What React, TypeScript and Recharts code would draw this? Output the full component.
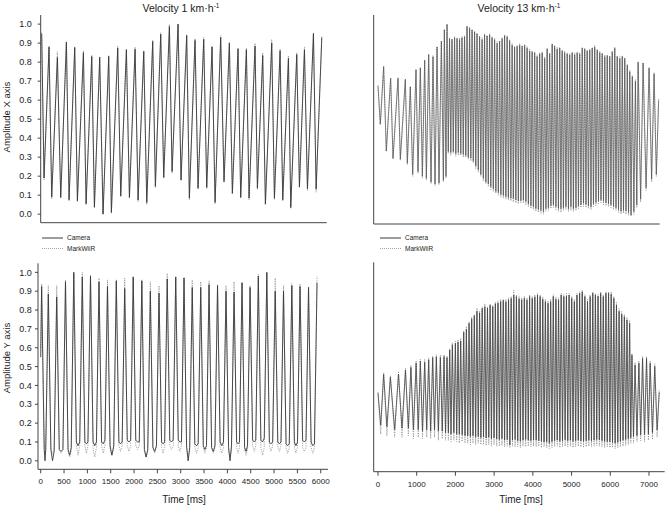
import React from 'react';
import { LineChart, Line, XAxis, YAxis } from 'recharts';

// [time ms, Camera, MarkWiiR]
type Sample = [number, number, number];

const seriesNames = ['Camera', 'MarkWiiR'];
const panelTitles = ['Velocity 1 km\u00b7h', 'Velocity 13 km\u00b7h'];
const yAxisTitles = ['Amplitude X axis', 'Amplitude Y axis'];
const timeTitle = 'Time [ms]';

const slowTimeTicks = [0, 500, 1000, 1500, 2000, 2500, 3000, 3500, 4000, 4500, 5000, 5500, 6000];
const fastTimeTicks = [0, 1000, 2000, 3000, 4000, 5000, 6000, 7000];
const amplitudeTicks = [0, 0.1, 0.2, 0.3, 0.4, 0.5, 0.6, 0.7, 0.8, 0.9, 1.0];
const fastYTicks = [0, 0.1, 0.2, 0.3, 0.4, 0.5, 0.6];

// 1 km/h, X axis
const slowX: Sample[] = [
  [21, 0.95, 0.955],
  [70, 0.19, 0.18], [175, 0.88, 0.885],
  [231, 0.09, 0.08], [350, 0.825, 0.855],
  [420, 0.088, 0.085], [539, 0.905, 0.91],
  [595, 0.075, 0.07], [714, 0.877, 0.88],
  [770, 0.07, 0.065], [896, 0.85, 0.86],
  [952, 0.054, 0.05], [1071, 0.83, 0.835],
  [1127, 0.036, 0.035], [1238, 0.825, 0.83],
  [1308, 0.0, 0.0], [1427, 0.83, 0.835],
  [1483, 0.009, 0.005], [1616, 0.874, 0.885],
  [1679, 0.096, 0.09], [1798, 0.865, 0.87],
  [1861, 0.088, 0.085], [1980, 0.868, 0.88],
  [2043, 0.074, 0.065], [2162, 0.856, 0.86],
  [2225, 0.061, 0.05], [2350, 0.909, 0.915],
  [2406, 0.146, 0.14], [2518, 0.947, 0.955],
  [2581, 0.193, 0.19], [2700, 0.988, 1.0],
  [2756, 0.225, 0.215], [2882, 1.0, 1.0],
  [2944, 0.18, 0.175], [3063, 0.94, 0.945],
  [3119, 0.084, 0.075], [3238, 0.915, 0.925],
  [3301, 0.137, 0.13], [3420, 0.92, 0.93],
  [3483, 0.14, 0.135], [3595, 0.88, 0.885],
  [3658, 0.061, 0.055], [3776, 0.93, 0.94],
  [3846, 0.172, 0.165], [3958, 0.9, 0.905],
  [4021, 0.11, 0.105], [4140, 0.87, 0.875],
  [4196, 0.088, 0.085], [4315, 0.865, 0.875],
  [4371, 0.084, 0.075], [4497, 0.885, 0.9],
  [4546, 0.137, 0.13], [4658, 0.835, 0.85],
  [4714, 0.053, 0.05], [4847, 0.9, 0.92],
  [4903, 0.084, 0.075], [5022, 0.86, 0.87],
  [5078, 0.075, 0.07], [5197, 0.82, 0.835],
  [5246, 0.035, 0.03], [5372, 0.84, 0.85],
  [5428, 0.142, 0.14], [5533, 0.865, 0.88],
  [5596, 0.133, 0.125], [5722, 0.95, 0.955],
  [5778, 0.133, 0.115], [5897, 0.93, 0.935],
];

// 1 km/h, Y axis (peak, then valley start / dip / end)
const slowY: Sample[] = [
  [0, 0.55, 0.6],
  [20, 0.925, 0.94], [75, 0.06, 0.07], [92, 0.0, 0.04], [108, 0.06, 0.06],
  [163, 0.885, 0.93], [218, 0.06, 0.06], [253, 0.0, 0.04], [288, 0.05, 0.06],
  [343, 0.87, 0.93], [398, 0.06, 0.06], [437, 0.05, 0.04], [476, 0.06, 0.06],
  [531, 0.95, 0.96], [586, 0.06, 0.05], [620, 0.03, 0.02], [654, 0.07, 0.05],
  [709, 1.0, 1.0], [764, 0.1, 0.08], [800, 0.08, 0.03], [836, 0.1, 0.08],
  [891, 0.975, 1.0], [946, 0.1, 0.08], [979, 0.09, 0.04], [1012, 0.1, 0.08],
  [1067, 0.98, 0.985], [1122, 0.1, 0.07], [1158, 0.08, 0.02], [1194, 0.1, 0.07],
  [1249, 0.95, 0.97], [1304, 0.1, 0.08], [1340, 0.09, 0.04], [1376, 0.11, 0.08],
  [1431, 0.925, 0.96], [1486, 0.08, 0.06], [1525, 0.03, 0.03], [1565, 0.08, 0.06],
  [1620, 0.955, 0.96], [1675, 0.1, 0.08], [1710, 0.09, 0.05], [1745, 0.1, 0.08],
  [1800, 0.915, 0.97], [1855, 0.11, 0.08], [1891, 0.1, 0.05], [1927, 0.11, 0.08],
  [1982, 0.975, 0.98], [2037, 0.11, 0.08], [2075, 0.1, 0.06], [2112, 0.1, 0.08],
  [2167, 0.955, 0.96], [2222, 0.06, 0.05], [2258, 0.02, 0.02], [2294, 0.06, 0.05],
  [2349, 0.9, 0.95], [2404, 0.07, 0.07], [2442, 0.05, 0.04], [2480, 0.08, 0.07],
  [2535, 0.89, 0.93], [2590, 0.1, 0.07], [2623, 0.09, 0.04], [2656, 0.1, 0.07],
  [2711, 0.965, 0.995], [2766, 0.11, 0.08], [2802, 0.1, 0.06], [2838, 0.11, 0.08],
  [2893, 0.975, 0.98], [2948, 0.11, 0.08], [2982, 0.1, 0.05], [3016, 0.1, 0.08],
  [3071, 0.97, 0.975], [3126, 0.08, 0.05], [3159, 0.0, 0.02], [3192, 0.07, 0.05],
  [3247, 0.92, 0.96], [3302, 0.09, 0.07], [3338, 0.08, 0.04], [3374, 0.09, 0.07],
  [3429, 0.92, 0.95], [3484, 0.08, 0.07], [3518, 0.06, 0.04], [3552, 0.08, 0.07],
  [3607, 0.935, 0.955], [3662, 0.07, 0.07], [3698, 0.05, 0.04], [3734, 0.08, 0.07],
  [3789, 0.93, 0.935], [3844, 0.1, 0.07], [3880, 0.08, 0.04], [3916, 0.1, 0.07],
  [3971, 0.9, 0.93], [4026, 0.07, 0.05], [4057, 0.0, 0.02], [4088, 0.08, 0.05],
  [4143, 0.895, 0.95], [4198, 0.1, 0.07], [4228, 0.09, 0.04], [4259, 0.1, 0.07],
  [4314, 0.945, 0.945], [4369, 0.07, 0.06], [4400, 0.05, 0.03], [4431, 0.08, 0.06],
  [4486, 0.92, 0.93], [4541, 0.11, 0.08], [4575, 0.1, 0.05], [4608, 0.11, 0.08],
  [4663, 0.98, 0.99], [4718, 0.11, 0.07], [4754, 0.1, 0.03], [4790, 0.12, 0.07],
  [4845, 1.0, 1.0], [4900, 0.1, 0.08], [4935, 0.09, 0.05], [4970, 0.1, 0.08],
  [5025, 0.9, 0.97], [5080, 0.1, 0.08], [5114, 0.09, 0.05], [5148, 0.1, 0.08],
  [5203, 0.9, 0.93], [5258, 0.09, 0.07], [5292, 0.08, 0.04], [5326, 0.09, 0.07],
  [5381, 0.93, 0.94], [5436, 0.1, 0.07], [5469, 0.08, 0.04], [5502, 0.1, 0.07],
  [5557, 0.925, 0.94], [5612, 0.11, 0.07], [5648, 0.1, 0.05], [5684, 0.11, 0.07],
  [5739, 0.92, 0.925], [5794, 0.1, 0.07], [5830, 0.08, 0.04], [5866, 0.09, 0.07],
  [5921, 0.945, 0.98],
];

// 13 km/h, X axis (trough, peak)
const fastX: Sample[] = [
  [0, 0.675, 0.68],
  [60, 0.475, 0.47], [146, 0.777, 0.78],
  [215, 0.333, 0.33], [327, 0.716, 0.72],
  [388, 0.295, 0.29], [517, 0.716, 0.72],
  [577, 0.29, 0.285], [706, 0.71, 0.71],
  [758, 0.27, 0.26], [835, 0.67, 0.675],
  [896, 0.21, 0.2], [982, 0.76, 0.765],
  [1034, 0.225, 0.215], [1094, 0.77, 0.775],
  [1146, 0.2, 0.19], [1206, 0.81, 0.815],
  [1249, 0.19, 0.18], [1309, 0.84, 0.845],
  [1370, 0.17, 0.16], [1421, 0.83, 0.835],
  [1473, 0.16, 0.15], [1525, 0.88, 0.885],
  [1576, 0.165, 0.155], [1637, 0.91, 0.915],
  [1689, 0.18, 0.17], [1714, 0.97, 0.975],
  [1757, 0.2, 0.19], [1783, 1.0, 1.0],
  [1816, 0.33, 0.32], [1848, 0.925, 0.93],
  [1880, 0.325, 0.31], [1912, 0.92, 0.925],
  [1945, 0.33, 0.32], [1978, 0.93, 0.935],
  [2010, 0.32, 0.305], [2042, 0.925, 0.93],
  [2075, 0.325, 0.31], [2107, 0.92, 0.93],
  [2138, 0.32, 0.31], [2170, 0.93, 0.935],
  [2203, 0.315, 0.3], [2236, 0.935, 0.94],
  [2268, 0.31, 0.3], [2300, 0.99, 0.99],
  [2333, 0.3, 0.29], [2366, 0.98, 0.985],
  [2398, 0.295, 0.28], [2430, 0.97, 0.975],
  [2462, 0.28, 0.27], [2495, 0.96, 0.965],
  [2526, 0.255, 0.24], [2558, 0.95, 0.955],
  [2591, 0.235, 0.22], [2624, 0.935, 0.94],
  [2656, 0.21, 0.2], [2689, 0.92, 0.93],
  [2721, 0.19, 0.175], [2753, 0.945, 0.95],
  [2786, 0.17, 0.16], [2818, 0.94, 0.94],
  [2850, 0.16, 0.145], [2883, 0.945, 0.95],
  [2914, 0.145, 0.13], [2946, 0.93, 0.935],
  [2979, 0.135, 0.12], [3012, 0.92, 0.925],
  [3044, 0.12, 0.11], [3077, 0.9, 0.91],
  [3109, 0.115, 0.1], [3141, 0.91, 0.915],
  [3174, 0.105, 0.09], [3206, 0.925, 0.93],
  [3238, 0.1, 0.085], [3270, 0.94, 0.945],
  [3303, 0.093, 0.08], [3336, 0.935, 0.94],
  [3368, 0.088, 0.075], [3400, 0.915, 0.92],
  [3432, 0.084, 0.07], [3465, 0.89, 0.9],
  [3496, 0.082, 0.065], [3528, 0.88, 0.885],
  [3561, 0.075, 0.06], [3594, 0.885, 0.89],
  [3626, 0.07, 0.055], [3659, 0.89, 0.9],
  [3691, 0.072, 0.06], [3723, 0.885, 0.89],
  [3756, 0.075, 0.06], [3788, 0.89, 0.895],
  [3820, 0.067, 0.05], [3852, 0.875, 0.885],
  [3885, 0.055, 0.04], [3918, 0.86, 0.87],
  [3950, 0.045, 0.03], [3982, 0.855, 0.86],
  [4014, 0.04, 0.025], [4047, 0.85, 0.855],
  [4078, 0.03, 0.015], [4110, 0.83, 0.84],
  [4143, 0.025, 0.01], [4176, 0.845, 0.85],
  [4208, 0.02, 0.005], [4241, 0.85, 0.855],
  [4273, 0.015, 0.0], [4305, 0.82, 0.83],
  [4338, 0.03, 0.015], [4370, 0.87, 0.875],
  [4402, 0.035, 0.02], [4434, 0.845, 0.85],
  [4467, 0.045, 0.03], [4500, 0.895, 0.9],
  [4531, 0.05, 0.035], [4563, 0.885, 0.89],
  [4596, 0.04, 0.025], [4628, 0.87, 0.88],
  [4661, 0.032, 0.015], [4694, 0.875, 0.88],
  [4726, 0.03, 0.01], [4758, 0.86, 0.865],
  [4790, 0.035, 0.02], [4822, 0.85, 0.86],
  [4855, 0.04, 0.025], [4888, 0.845, 0.85],
  [4920, 0.03, 0.015], [4952, 0.84, 0.845],
  [4984, 0.04, 0.02], [5016, 0.85, 0.855],
  [5048, 0.03, 0.015], [5081, 0.84, 0.85],
  [5114, 0.035, 0.02], [5146, 0.85, 0.855],
  [5178, 0.045, 0.03], [5210, 0.845, 0.85],
  [5243, 0.05, 0.035], [5276, 0.875, 0.88],
  [5308, 0.058, 0.04], [5340, 0.87, 0.875],
  [5372, 0.052, 0.035], [5404, 0.86, 0.865],
  [5436, 0.045, 0.03], [5469, 0.865, 0.87],
  [5502, 0.04, 0.025], [5534, 0.875, 0.88],
  [5566, 0.055, 0.04], [5598, 0.88, 0.89],
  [5631, 0.062, 0.045], [5664, 0.865, 0.87],
  [5696, 0.07, 0.055], [5728, 0.85, 0.86],
  [5760, 0.075, 0.06], [5792, 0.845, 0.85],
  [5825, 0.068, 0.05], [5858, 0.83, 0.84],
  [5890, 0.06, 0.045], [5922, 0.835, 0.84],
  [5954, 0.055, 0.04], [5986, 0.83, 0.835],
  [6018, 0.05, 0.035], [6051, 0.855, 0.86],
  [6084, 0.042, 0.025], [6116, 0.875, 0.88],
  [6148, 0.035, 0.02], [6180, 0.83, 0.835],
  [6213, 0.025, 0.01], [6246, 0.82, 0.83],
  [6278, 0.015, 0.0], [6310, 0.83, 0.835],
  [6342, 0.02, 0.005], [6374, 0.82, 0.825],
  [6407, 0.018, 0.0], [6440, 0.785, 0.79],
  [6472, 0.01, -0.005], [6504, 0.75, 0.76],
  [6537, -0.004, -0.01], [6570, 0.725, 0.73],
  [6610, 0.014, 0.0], [6650, 0.7, 0.71],
  [6685, 0.05, 0.035], [6719, 0.8, 0.805],
  [6784, 0.08, 0.065], [6848, 0.795, 0.8],
  [6925, 0.14, 0.125], [7003, 0.77, 0.775],
  [7068, 0.185, 0.17], [7132, 0.74, 0.745],
  [7190, 0.21, 0.2], [7250, 0.6, 0.61],
];

// 13 km/h, Y axis (trough, peak)
const fastY: Sample[] = [
  [0, 0.167, 0.17],
  [70, 0.06, 0.03], [146, 0.23, 0.235],
  [230, 0.055, 0.025], [320, 0.22, 0.225],
  [430, 0.045, 0.02], [530, 0.23, 0.24],
  [620, 0.05, 0.02], [710, 0.244, 0.25],
  [785, 0.05, 0.025], [850, 0.253, 0.26],
  [915, 0.045, 0.015], [985, 0.267, 0.275],
  [1040, 0.045, 0.02], [1094, 0.274, 0.28],
  [1150, 0.04, 0.015], [1206, 0.27, 0.28],
  [1258, 0.045, 0.02], [1309, 0.278, 0.285],
  [1360, 0.04, 0.015], [1413, 0.286, 0.29],
  [1460, 0.045, 0.02], [1507, 0.288, 0.295],
  [1560, 0.04, 0.01], [1611, 0.286, 0.295],
  [1660, 0.04, 0.015], [1706, 0.289, 0.295],
  [1745, 0.035, 0.01], [1783, 0.286, 0.29],
  [1818, 0.035, 0.01], [1852, 0.311, 0.315],
  [1886, 0.03, 0.005], [1921, 0.328, 0.335],
  [1960, 0.035, 0.01], [1999, 0.333, 0.34],
  [2033, 0.03, 0.005], [2067, 0.337, 0.345],
  [2101, 0.03, 0.0], [2136, 0.341, 0.35],
  [2175, 0.028, 0.005], [2214, 0.37, 0.375],
  [2248, 0.025, 0.0], [2283, 0.38, 0.39],
  [2318, 0.025, 0.0], [2352, 0.4, 0.405],
  [2386, 0.022, -0.005], [2420, 0.415, 0.42],
  [2454, 0.025, 0.0], [2488, 0.425, 0.43],
  [2522, 0.02, -0.005], [2556, 0.44, 0.45],
  [2590, 0.022, 0.0], [2624, 0.435, 0.44],
  [2658, 0.018, -0.005], [2692, 0.45, 0.455],
  [2726, 0.02, -0.005], [2760, 0.455, 0.465],
  [2794, 0.017, -0.008], [2828, 0.45, 0.455],
  [2862, 0.02, -0.005], [2896, 0.46, 0.465],
  [2930, 0.015, -0.01], [2964, 0.455, 0.46],
  [2998, 0.018, -0.005], [3032, 0.465, 0.47],
  [3066, 0.014, -0.01], [3100, 0.467, 0.475],
  [3134, 0.012, -0.01], [3168, 0.472, 0.48],
  [3202, 0.015, -0.008], [3236, 0.476, 0.48],
  [3270, 0.01, -0.012], [3304, 0.472, 0.48],
  [3338, 0.012, -0.01], [3372, 0.478, 0.485],
  [3406, -0.006, -0.015], [3440, 0.483, 0.49],
  [3474, 0.01, -0.01], [3508, 0.494, 0.51],
  [3542, 0.012, -0.012], [3576, 0.489, 0.495],
  [3610, 0.008, -0.012], [3644, 0.482, 0.49],
  [3678, 0.006, -0.015], [3712, 0.478, 0.485],
  [3746, 0.01, -0.01], [3780, 0.483, 0.49],
  [3814, 0.012, -0.012], [3848, 0.478, 0.485],
  [3882, 0.01, -0.01], [3916, 0.489, 0.495],
  [3950, 0.008, -0.012], [3984, 0.483, 0.49],
  [4018, 0.011, -0.01], [4052, 0.488, 0.495],
  [4086, 0.01, -0.012], [4120, 0.494, 0.5],
  [4154, 0.008, -0.01], [4188, 0.489, 0.495],
  [4222, 0.006, -0.015], [4256, 0.48, 0.488],
  [4290, 0.004, -0.012], [4324, 0.472, 0.48],
  [4358, 0.005, -0.015], [4392, 0.467, 0.475],
  [4426, 0.0, -0.018], [4460, 0.472, 0.48],
  [4494, 0.005, -0.015], [4528, 0.489, 0.495],
  [4562, 0.008, -0.012], [4596, 0.48, 0.488],
  [4630, 0.01, -0.01], [4664, 0.478, 0.485],
  [4698, 0.006, -0.015], [4732, 0.494, 0.5],
  [4766, 0.008, -0.012], [4800, 0.489, 0.495],
  [4834, 0.011, -0.01], [4868, 0.49, 0.5],
  [4902, 0.008, -0.012], [4936, 0.494, 0.5],
  [4970, 0.01, -0.01], [5004, 0.483, 0.49],
  [5038, 0.006, -0.015], [5072, 0.472, 0.48],
  [5106, 0.008, -0.012], [5140, 0.494, 0.5],
  [5174, 0.01, -0.01], [5208, 0.5, 0.505],
  [5242, 0.008, -0.012], [5276, 0.505, 0.51],
  [5310, 0.006, -0.015], [5344, 0.489, 0.495],
  [5378, 0.008, -0.012], [5412, 0.472, 0.48],
  [5446, 0.01, -0.01], [5480, 0.489, 0.495],
  [5514, 0.008, -0.012], [5548, 0.5, 0.505],
  [5582, 0.01, -0.01], [5616, 0.494, 0.5],
  [5650, 0.012, -0.008], [5684, 0.49, 0.495],
  [5718, 0.011, -0.01], [5752, 0.5, 0.505],
  [5786, 0.008, -0.012], [5820, 0.489, 0.495],
  [5854, 0.006, -0.015], [5888, 0.5, 0.505],
  [5922, 0.005, -0.012], [5956, 0.5, 0.505],
  [5990, 0.004, -0.015], [6024, 0.497, 0.505],
  [6058, 0.002, -0.015], [6092, 0.483, 0.49],
  [6126, 0.0, -0.018], [6160, 0.46, 0.47],
  [6194, 0.003, -0.015], [6228, 0.44, 0.45],
  [6262, 0.006, -0.012], [6296, 0.43, 0.44],
  [6330, 0.01, -0.01], [6364, 0.422, 0.43],
  [6398, 0.012, -0.008], [6432, 0.411, 0.42],
  [6466, 0.015, -0.005], [6500, 0.4, 0.41],
  [6530, 0.018, 0.0], [6560, 0.294, 0.3],
  [6600, 0.022, 0.0], [6640, 0.261, 0.27],
  [6690, 0.025, 0.005], [6739, 0.267, 0.275],
  [6786, 0.028, 0.008], [6834, 0.283, 0.29],
  [6885, 0.028, 0.005], [6937, 0.283, 0.29],
  [6985, 0.03, 0.01], [7030, 0.267, 0.275],
  [7090, 0.035, 0.012], [7149, 0.256, 0.265],
  [7210, 0.044, 0.02], [7265, 0.17, 0.18],
];

const CAMERA_COLOR = '#3a3a3a';
const WII_COLOR = '#8e8e8e';
const AXIS_COLOR = '#444';
const TEXT_COLOR = '#222';
const FONT = '"Liberation Sans", Arial, sans-serif';

type PanelProps = {
  samples: Sample[];
  left: number;
  top: number;
  width: number;
  height: number;
  margin: { top: number; right: number; bottom: number; left: number };
  yWidth: number;
  xHeight: number;
  xDomain: [number, number];
  xTicks: number[];
  yDomain: [number, number];
  yTicks: number[];
  xLabels: boolean;
  yLabels: boolean;
  yTickMargin?: number;
  cameraColor?: string;
  cameraWidth?: number;
};

const Panel = (p: PanelProps) => {
  const rows = p.samples.map(([t, camera, wii]) => ({ t, camera, wii }));
  return (
    <div style={{ position: 'absolute', left: p.left, top: p.top }}>
      <LineChart width={p.width} height={p.height} data={rows} margin={p.margin}>
        <XAxis
          type="number"
          dataKey="t"
          domain={p.xDomain}
          ticks={p.xTicks}
          interval={0}
          allowDataOverflow
          height={p.xHeight}
          stroke={AXIS_COLOR}
          tickSize={4}
          tickMargin={5.5}
          tick={p.xLabels ? { fontSize: 8, fill: TEXT_COLOR } : false}
        />
        <YAxis
          type="number"
          domain={p.yDomain}
          ticks={p.yTicks}
          interval={0}
          allowDataOverflow
          width={p.yWidth}
          stroke={AXIS_COLOR}
          tickSize={3}
          tickMargin={p.yTickMargin ?? 4}
          tick={p.yLabels ? { fontSize: 9, fill: TEXT_COLOR } : false}
          tickFormatter={(v: number) => v.toFixed(1)}
        />
        <Line
          type="linear"
          dataKey="wii"
          name={seriesNames[1]}
          stroke={WII_COLOR}
          strokeWidth={0.8}
          strokeDasharray="1.2 1.2"
          dot={false}
          activeDot={false}
          isAnimationActive={false}
        />
        <Line
          type="linear"
          dataKey="camera"
          name={seriesNames[0]}
          stroke={p.cameraColor ?? CAMERA_COLOR}
          strokeWidth={p.cameraWidth ?? 0.9}
          dot={false}
          activeDot={false}
          isAnimationActive={false}
        />
      </LineChart>
    </div>
  );
};

const LegendBox = ({ left, top }: { left: number; top: number }) => (
  <svg style={{ position: 'absolute', left, top }} width={70} height={18}>
    <line x1={0} y1={3} x2={21} y2={3} stroke={CAMERA_COLOR} strokeWidth={1} />
    <text x={25} y={5.3} fontSize={6.5} fill={TEXT_COLOR}>{seriesNames[0]}</text>
    <line x1={0} y1={13.5} x2={21} y2={13.5} stroke={WII_COLOR} strokeWidth={0.8} strokeDasharray="1 1" />
    <text x={25} y={15.8} fontSize={6.5} fill={TEXT_COLOR}>{seriesNames[1]}</text>
  </svg>
);

const Title = ({ cx, text }: { cx: number; text: string }) => (
  <div
    style={{
      position: 'absolute', left: cx - 100, top: 2, width: 200, textAlign: 'center',
      fontSize: 10.5, lineHeight: '13px', color: TEXT_COLOR,
    }}
  >
    {text}<sup style={{ fontSize: 6.5, verticalAlign: 'top', lineHeight: '8px' }}>-1</sup>
  </div>
);

const VerticalLabel = ({ cx, cy, text }: { cx: number; cy: number; text: string }) => (
  <div
    style={{
      position: 'absolute', left: cx - 60, top: cy - 6, width: 120, height: 12,
      lineHeight: '12px', textAlign: 'center', fontSize: 9.5, color: TEXT_COLOR,
      transform: 'rotate(-90deg)', whiteSpace: 'nowrap',
    }}
  >
    {text}
  </div>
);

const BottomLabel = ({ cx, top, text }: { cx: number; top: number; text: string }) => (
  <div
    style={{
      position: 'absolute', left: cx - 50, top, width: 100, height: 12,
      lineHeight: '12px', textAlign: 'center', fontSize: 10, color: TEXT_COLOR,
    }}
  >
    {text}
  </div>
);

export default function App() {
  return (
    <div
      style={{
        position: 'absolute', left: 0, top: 0, width: 666, height: 507,
        background: '#fff', fontFamily: FONT, overflow: 'hidden',
      }}
    >
      <Panel
        samples={slowX}
        left={0} top={0} width={333} height={235}
        margin={{ top: 15, right: 6.3, bottom: 4.3, left: 0 }}
        yWidth={40.7} xHeight={8}
        xDomain={[0, 6000]} xTicks={slowTimeTicks}
        yDomain={[-0.045, 1.048]} yTicks={amplitudeTicks}
        xLabels={false} yLabels yTickMargin={6}
      />
      <Panel
        samples={fastX}
        left={333} top={0} width={333} height={235}
        margin={{ top: 15, right: 6.3, bottom: 3, left: 0 }}
        yWidth={40.7} xHeight={8}
        xDomain={[-111, 7277]} xTicks={fastTimeTicks}
        yDomain={[-0.051, 1.049]} yTicks={amplitudeTicks}
        xLabels={false} yLabels={false}
        cameraColor="#555" cameraWidth={0.7}
      />
      <Panel
        samples={slowY}
        left={0} top={250} width={333} height={257}
        margin={{ top: 13.3, right: 5, bottom: 12.7, left: 0 }}
        yWidth={38} xHeight={25}
        xDomain={[-58, 6156]} xTicks={slowTimeTicks}
        yDomain={[-0.045, 1.048]} yTicks={amplitudeTicks}
        xLabels yLabels yTickMargin={3.3}
      />
      <Panel
        samples={fastY}
        left={333} top={250} width={333} height={257}
        margin={{ top: 12.3, right: 1.3, bottom: 10.3, left: 0 }}
        yWidth={40.7} xHeight={25}
        xDomain={[-111, 7406]} xTicks={fastTimeTicks}
        yDomain={[-0.095, 0.603]} yTicks={fastYTicks}
        xLabels yLabels={false}
        cameraColor="#444" cameraWidth={0.8}
      />
      <Title cx={181} text={panelTitles[0]} />
      <Title cx={519} text={panelTitles[1]} />
      <VerticalLabel cx={7} cy={117} text={yAxisTitles[0]} />
      <VerticalLabel cx={7} cy={358} text={yAxisTitles[1]} />
      <BottomLabel cx={184} top={494} text={timeTitle} />
      <BottomLabel cx={521} top={494} text={timeTitle} />
      <LegendBox left={42} top={234.5} />
      <LegendBox left={380} top={234.5} />
    </div>
  );
}
